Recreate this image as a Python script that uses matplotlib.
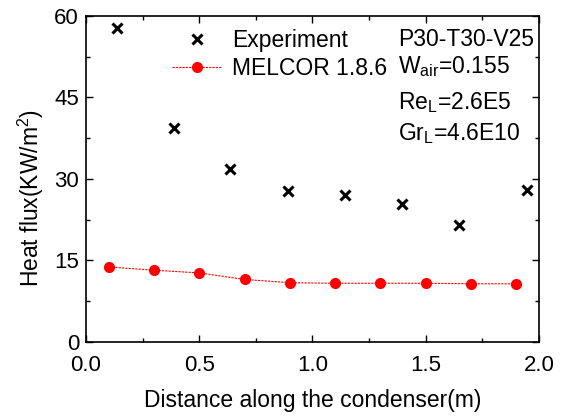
import matplotlib
matplotlib.use("Agg")
import matplotlib.pyplot as plt
from matplotlib.ticker import MultipleLocator

plt.rcParams['font.family'] = ['Liberation Sans', 'DejaVu Sans']
plt.rcParams['mathtext.fontset'] = 'custom'
plt.rcParams['mathtext.rm'] = 'Liberation Sans'

exp_x = [0.137, 0.387, 0.636, 0.890, 1.143, 1.394, 1.647, 1.946]
exp_y = [57.7, 39.3, 31.8, 27.7, 27.1, 25.4, 21.5, 27.9]
mel_x = [0.1, 0.3, 0.5, 0.7, 0.9, 1.1, 1.3, 1.5, 1.7, 1.9]
mel_y = [13.8, 13.2, 12.7, 11.5, 10.9, 10.8, 10.8, 10.8, 10.7, 10.7]
xticks = [0.0, 0.5, 1.0, 1.5, 2.0]
yticks = [0, 15, 30, 45, 60]
info = ["P30-T30-V25", r"W$_{\mathregular{air}}$=0.155",
        r"Re$_{\mathregular{L}}$=2.6E5", r"Gr$_{\mathregular{L}}$=4.6E10"]

FS = 16.5

fig = plt.figure(figsize=(5.66, 4.16), dpi=100)
ax = fig.add_axes([0.152, 0.178, 0.800, 0.784])

ax.plot(exp_x, exp_y, linestyle='none', marker='x', color='black',
        markersize=7, markeredgewidth=2.2, label='Experiment')
ax.plot(mel_x, mel_y, linestyle=(0, (2, 1)), linewidth=0.8, color='red',
        marker='o', markersize=7, label='MELCOR 1.8.6')

ax.set_xlim(0, 2.0)
ax.set_ylim(0, 60)
ax.set_xticks(xticks)
ax.set_yticks(yticks)
ax.set_xticklabels([f"{v:.1f}" for v in xticks])
ax.xaxis.set_minor_locator(MultipleLocator(0.25))
ax.yaxis.set_minor_locator(MultipleLocator(7.5))
ax.tick_params(which='both', direction='in', top=True, right=True, labelsize=16)
ax.tick_params(which='major', length=5, width=1)
ax.tick_params(which='minor', length=3, width=1)
ax.tick_params(axis='x', pad=9.5)
ax.tick_params(axis='y', pad=5)
for s in ax.spines.values():
    s.set_linewidth(1.2)

ax.set_xlabel("Distance along the condenser(m)", fontsize=FS, labelpad=9)
ax.set_ylabel(r"Heat flux(KW/m$^{\mathregular{2}}$)", fontsize=FS)
ax.yaxis.set_label_coords(-0.088, 0.44)

ax.legend(loc='upper left', bbox_to_anchor=(0.19, 0.96), frameon=False,
          fontsize=FS, handlelength=2.2, handletextpad=0.4, borderaxespad=0,
          borderpad=0, labelspacing=0.22)

ys = [0.906, 0.824, 0.714, 0.618]
for t, y in zip(info, ys):
    ax.text(0.689, y, t, transform=ax.transAxes, fontsize=FS, va='baseline', ha='left')

fig.savefig("out.png", dpi=100)
